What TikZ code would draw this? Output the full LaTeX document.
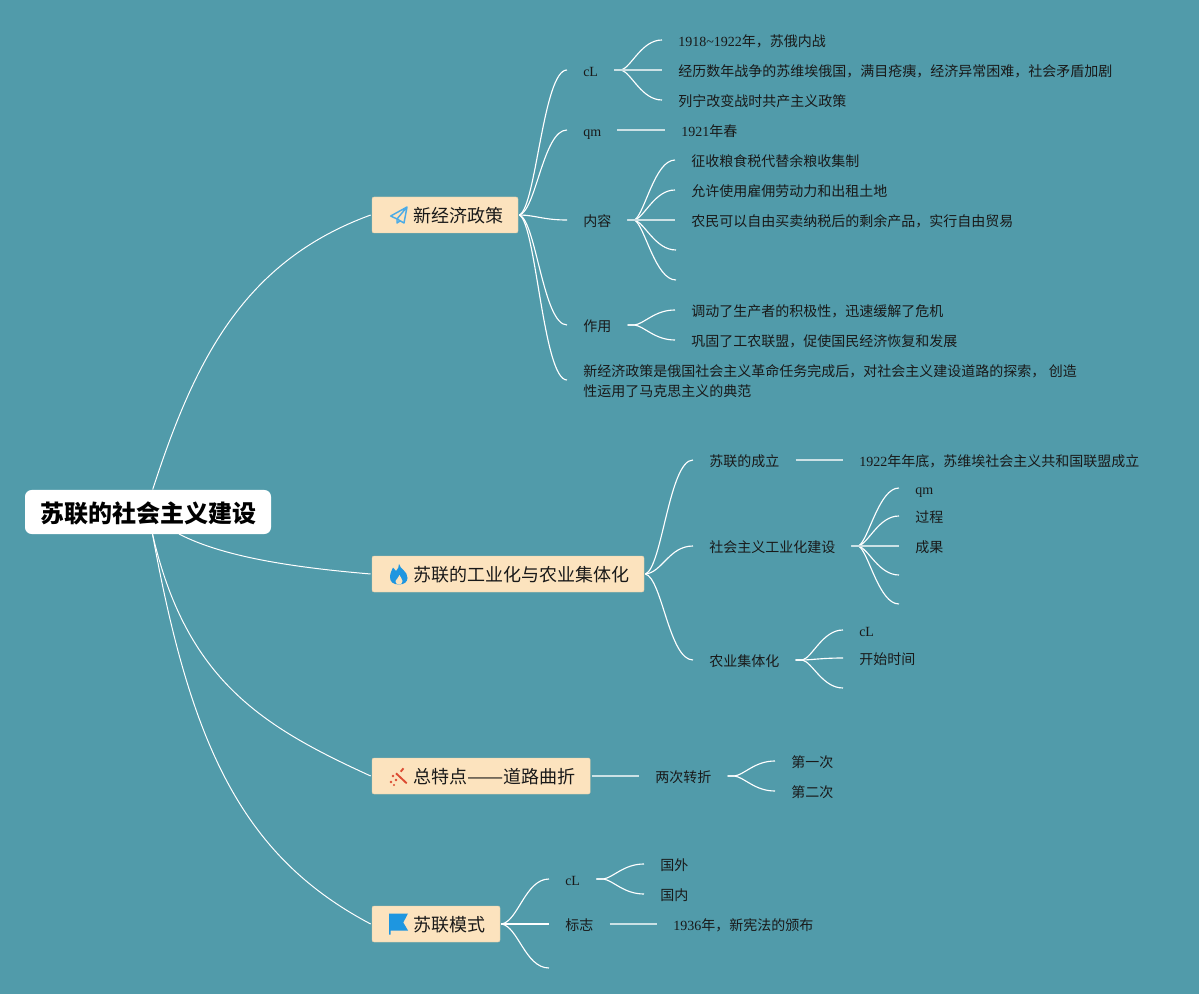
\documentclass[tikz,border=0pt]{standalone}
\usepackage{fontspec}
\usepackage{xcolor}
\usetikzlibrary{calc}
\setmainfont{Liberation Serif}
\newfontfamily\zhfont{Noto Sans CJK SC}
\newcommand{\zh}[1]{{\zhfont #1}}
\definecolor{bgteal}{HTML}{519BAA}
\definecolor{topicfill}{HTML}{FCE3BE}
\definecolor{iconblue}{HTML}{1E96E0}
\definecolor{iconred}{HTML}{DC4B32}
\tikzset{
    link/.style={white, line width=0.85pt, to path={let \p1=(\tikztostart), \p2=(\tikztotarget) in .. controls ({\x1+.35*(\x2-\x1)},{\y1+.05*(\y2-\y1)}) and ({(\x1+\x2)/2},\y2) .. (\tikztotarget)}},
    sublink/.style={white, line width=0.85pt, to path={let \p1=($(\tikztostart)+(5.25pt,0)$), \p2=(\tikztotarget) in -- (\p1) .. controls ({\x1+.25*(\x2-\x1)},{\y1+.1*(\y2-\y1)}) and ({(\x1+\x2)/2},\y2) .. (\tikztotarget)}},
    flatlink/.style={white!70!bgteal, line width=1.1pt},
    rootlink/.style={white, line width=0.75pt},
    rootbox/.style={fill=white, rounded corners=5pt, minimum width=184.5pt, minimum height=33pt, inner sep=0pt, text height=18pt, text depth=2.2pt, text=black, font=\fontsize{18}{20}\selectfont\zhfont\bfseries},
    topic/.style={anchor=west, fill=topicfill, draw=topicfill!90!black, line width=0.3pt, rounded corners=1.5pt, minimum height=27pt, inner xsep=11.25pt, inner ysep=0pt, outer xsep=1pt, text height=13.5pt, text depth=1.8pt, text=black!90, font=\fontsize{13.5}{16}\selectfont\zhfont},
    notebox/.style={anchor=west, inner xsep=12pt, inner ysep=0pt, text=black!90, font=\fontsize{10.5}{15}\selectfont},
    leaf/.style={notebox, text height=12pt, text depth=2.5pt},
}
\begin{document}
\begin{tikzpicture}[x=0.75pt, y=-0.75pt]
            \useasboundingbox[fill=bgteal] (0,0) rectangle (1199,994);

            \node[rootbox] (root) at (148,512) {苏联的社会主义建设};
            \coordinate (rootUp) at (152.7,489.5);
            \coordinate (rootDown) at (152.5,534);
            \coordinate (rootRight) at (179,534);

            \node[topic] (policy) at (370.7,215) {\hspace*{19.5pt}新经济政策};
            \node[topic] (industry) at (370.7,574) {\hspace*{19.5pt}苏联的工业化与农业集体化};
            \node[topic] (feature) at (370.7,776) {\hspace*{19.5pt}总特点\scalebox{1.2}[1]{——}道路曲折};
            \node[topic] (model) at (370.7,924) {\hspace*{19.5pt}苏联模式};

            \draw[rootlink] (rootUp) .. controls (194.5,361) and (243,261.5) .. (policy.west);
            \draw[rootlink] (rootRight) .. controls (225,558) and (300,568) .. (industry.west);
            \draw[rootlink] (rootDown) .. controls (186,679.5) and (261,726) .. (feature.west);
            \draw[rootlink] (rootDown) .. controls (190.7,744.7) and (241.7,856) .. (model.west);

            \node[leaf] (pBack) at (567,70) {cL};
            \node[leaf] (pBackA) at (662,40) {1918\textasciitilde1922\zh{年，苏俄内战}};
            \node[leaf] (pBackB) at (662,70) {\zh{经历数年战争的苏维埃俄国，满目疮痍，经济异常困难，社会矛盾加剧}};
            \node[leaf] (pBackC) at (662,100) {\zh{列宁改变战时共产主义政策}};
            \node[leaf] (pTime) at (567,130) {qm};
            \node[leaf] (pTimeA) at (665,130) {1921\zh{年春}};
            \node[leaf] (pBody) at (567,220) {\zh{内容}};
            \node[leaf] (pBodyA) at (675,160) {\zh{征收粮食税代替余粮收集制}};
            \node[leaf] (pBodyB) at (675,190) {\zh{允许使用雇佣劳动力和出租土地}};
            \node[leaf] (pBodyC) at (675,220) {\zh{农民可以自由买卖纳税后的剩余产品，实行自由贸易}};
            \coordinate (pBodyD) at (676,250);
            \coordinate (pBodyE) at (676,280);
            \node[leaf] (pRole) at (567,325) {\zh{作用}};
            \node[leaf] (pRoleA) at (675,310) {\zh{调动了生产者的积极性，迅速缓解了危机}};
            \node[leaf] (pRoleB) at (675,340) {\zh{巩固了工农联盟，促使国民经济恢复和发展}};
            \node[notebox, align=left] (pNote) at (567,381) {\zh{新经济政策是俄国社会主义革命任务完成后，对社会主义建设道路的探索，} \zh{创造}\\\zh{性运用了马克思主义的典范}};
            \coordinate (pNoteIn) at (567,380);

            \node[leaf] (iUnion) at (693,460) {\zh{苏联的成立}};
            \node[leaf] (iUnionA) at (843,460) {1922\zh{年年底，苏维埃社会主义共和国联盟成立}};
            \node[leaf] (iWork) at (693,546) {\zh{社会主义工业化建设}};
            \node[leaf] (iWorkA) at (899,488) {qm};
            \node[leaf] (iWorkB) at (899,516) {\zh{过程}};
            \node[leaf] (iWorkC) at (899,546) {\zh{成果}};
            \coordinate (iWorkD) at (899,575);
            \coordinate (iWorkE) at (899,604);
            \node[leaf] (iFarm) at (693,660) {\zh{农业集体化}};
            \node[leaf] (iFarmA) at (843,630) {cL};
            \node[leaf] (iFarmB) at (843,658) {\zh{开始时间}};
            \coordinate (iFarmC) at (843,688);

            \node[leaf] (fTurn) at (639,776) {\zh{两次转折}};
            \node[leaf] (fTurnA) at (775,761) {\zh{第一次}};
            \node[leaf] (fTurnB) at (775,791) {\zh{第二次}};

            \node[leaf] (mBack) at (549,879) {cL};
            \node[leaf] (mBackA) at (644,864) {\zh{国外}};
            \node[leaf] (mBackB) at (644,894) {\zh{国内}};
            \node[leaf] (mSign) at (549,924) {\zh{标志}};
            \node[leaf] (mSignA) at (657,924) {1936\zh{年，新宪法的颁布}};
            \coordinate (mLast) at (549,968);

            \foreach \a/\b in {policy/pBack, policy/pTime, policy/pBody, policy/pRole, industry/iUnion, industry/iWork, industry/iFarm, model/mBack, model/mSign}
                \draw[link] (\a.east) to (\b.west);
            \foreach \a/\b in {policy/pNoteIn, model/mLast}
                \draw[link] (\a.east) to (\b);
            \foreach \a/\b in {pBack/pBackA, pBack/pBackC, pBody/pBodyA, pBody/pBodyB, pRole/pRoleA, pRole/pRoleB, iWork/iWorkA, iWork/iWorkB, iFarm/iFarmA, iFarm/iFarmB, fTurn/fTurnA, fTurn/fTurnB, mBack/mBackA, mBack/mBackB}
                \draw[sublink] (\a.east) to (\b.west);
            \foreach \a/\b in {pBody/pBodyD, pBody/pBodyE, iWork/iWorkD, iWork/iWorkE, iFarm/iFarmC}
                \draw[sublink] (\a.east) to (\b);
            \foreach \a/\b in {pBack/pBackB, pTime/pTimeA, pBody/pBodyC, iUnion/iUnionA, iWork/iWorkC, feature/fTurn, mSign/mSignA}
                \draw[flatlink] (\a.east) -- (\b.west);

            \draw[iconblue!80!white, line width=1.1pt, line join=round] (390.7,216) -- (407,207) -- (404,223) -- (397,219) -- cycle (397,219) -- (407,207) (397,219) -- (397,223) -- (400,221);

            \fill[iconblue] (399,564) .. controls (400,569) and (407.5,571) .. (407.5,578) .. controls (407.5,582) and (404,584.5) .. (399,584.5) .. controls (393,584.5) and (390,582) .. (390,577) .. controls (390,573) and (392,570) .. (393,567.5) .. controls (394,569) and (395,570) .. (396,571) .. controls (398,569) and (399,567) .. (399,564) -- cycle;
            \fill[topicfill] (399.5,575) .. controls (400,577) and (402.5,579) .. (402.5,581) .. controls (402.5,583) and (401,584.5) .. (399,584.5) .. controls (397,584.5) and (395.5,583) .. (395.5,581.5) .. controls (395.5,579.5) and (399,578) .. (399.5,575) -- cycle;

            \draw[iconred, line width=1.4pt] (396,773.3) -- (406.7,783.3) (403.5,768.3) -- (400.7,771.7);
            \fill[iconred] (393,776) circle (1.4) (391,782) circle (1.4) (396,780) circle (1.4) (394,785) circle (1.2);

            \fill[iconblue] (389,913.5) -- (408,913.5) -- (403.3,922.5) -- (408,930.5) -- (390.5,930.5) -- (390.5,934.5) -- (389,934.5) -- cycle;
        \end{tikzpicture}
\end{document}
